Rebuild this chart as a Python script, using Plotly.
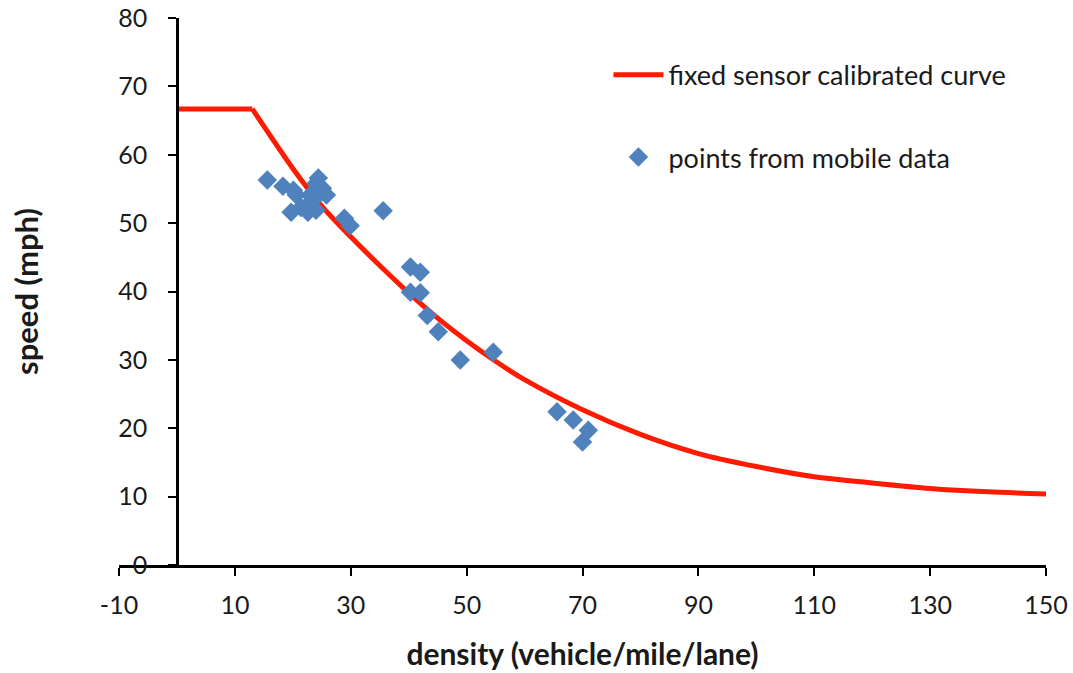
import plotly.graph_objects as go

# Calibrated speed-density curve from fixed sensors: free-flow plateau, then decay
plateau_density = [0, 13]
plateau_speed = [66.7, 66.7]
curve_density = [13, 20, 25, 30, 35, 40, 45, 50, 55, 60, 70, 80, 90, 100, 110, 120, 130, 140, 150]
curve_speed = [66.7, 58.0, 52.5, 48.0, 43.8, 39.8, 36.1, 32.8, 29.8, 27.1, 22.7, 19.1, 16.3, 14.4, 12.9, 12.0, 11.2, 10.7, 10.4]

# Speed/density estimates from mobile probe data
mobile_density = [15.6, 18.3, 20.1, 20.6, 19.7, 21.4, 22.5, 23.5, 24.0, 24.4, 25.1, 25.8, 24.0, 22.6, 23.0,
                  28.9, 29.9, 35.6, 40.3, 42.0, 40.3, 42.0, 43.2, 45.1, 48.9, 54.6, 65.6, 68.4, 71.0, 70.0]
mobile_speed = [56.3, 55.4, 54.8, 54.1, 51.6, 52.3, 52.6, 53.4, 55.8, 56.6, 55.1, 54.1, 51.9, 51.6, 54.1,
                50.7, 49.6, 51.8, 43.6, 42.8, 39.9, 39.8, 36.5, 34.1, 30.0, 31.1, 22.4, 21.2, 19.7, 18.0]

x_ticks = [-10, 10, 30, 50, 70, 90, 110, 130, 150]
x_tick_text = ["-10", "10", "30", "50", "70", "90", "110", "130", "150"]
y_ticks = [0, 10, 20, 30, 40, 50, 60, 70, 80]

FONT = "Lato, 'Open Sans', sans-serif"
RED = "#ff1a00"

fig = go.Figure()
fig.add_trace(go.Scatter(
    x=plateau_density, y=plateau_speed, mode="lines",
    line=dict(color=RED, width=5),
    legendgroup="curve", showlegend=False, hoverinfo="skip",
))
fig.add_trace(go.Scatter(
    x=curve_density, y=curve_speed, mode="lines",
    line=dict(color=RED, width=5, shape="spline", smoothing=0.8),
    name="fixed sensor calibrated curve", legendgroup="curve",
))
fig.add_trace(go.Scatter(
    x=mobile_density, y=mobile_speed, mode="markers",
    marker=dict(symbol="diamond", size=15, color="#4f81bd"),
    name="points from mobile data", legendgroup="mobile",
))

axis_style = dict(
    showline=True, linecolor="black", linewidth=2.5,
    ticks="outside", ticklen=8, tickwidth=2, tickcolor="black",
    showgrid=False, zeroline=False,
    tickfont=dict(family=FONT, size=25, color="#1a1a1a"),
)

fig.update_layout(
    width=1073, height=673,
    paper_bgcolor="white", plot_bgcolor="white",
    margin=dict(l=119, r=27, t=18, b=108, autoexpand=False),
    font=dict(family=FONT, color="#1a1a1a"),
    xaxis=dict(
        range=[-10, 150], domain=[0, 1], tickvals=x_ticks, ticktext=x_tick_text,
        ticklabelstandoff=8,
        title=dict(text="<b>density (vehicle/mile/lane)</b>", font=dict(family=FONT, size=30), standoff=27),
        **axis_style,
    ),
    yaxis=dict(
        range=[0, 80], tickvals=y_ticks, anchor="free", position=10 / 160,
        ticklabelstandoff=16,
        title=dict(text="<b>speed (mph)</b>", font=dict(family=FONT, size=31), standoff=69),
        **axis_style,
    ),
    legend=dict(
        x=0.528, y=0.94, xanchor="left", yanchor="top",
        font=dict(family=FONT, size=27, color="#1a1a1a"),
        bgcolor="rgba(0,0,0,0)", traceorder="grouped", tracegroupgap=44,
        itemwidth=50,
    ),
)

fig.write_html("out.html")
